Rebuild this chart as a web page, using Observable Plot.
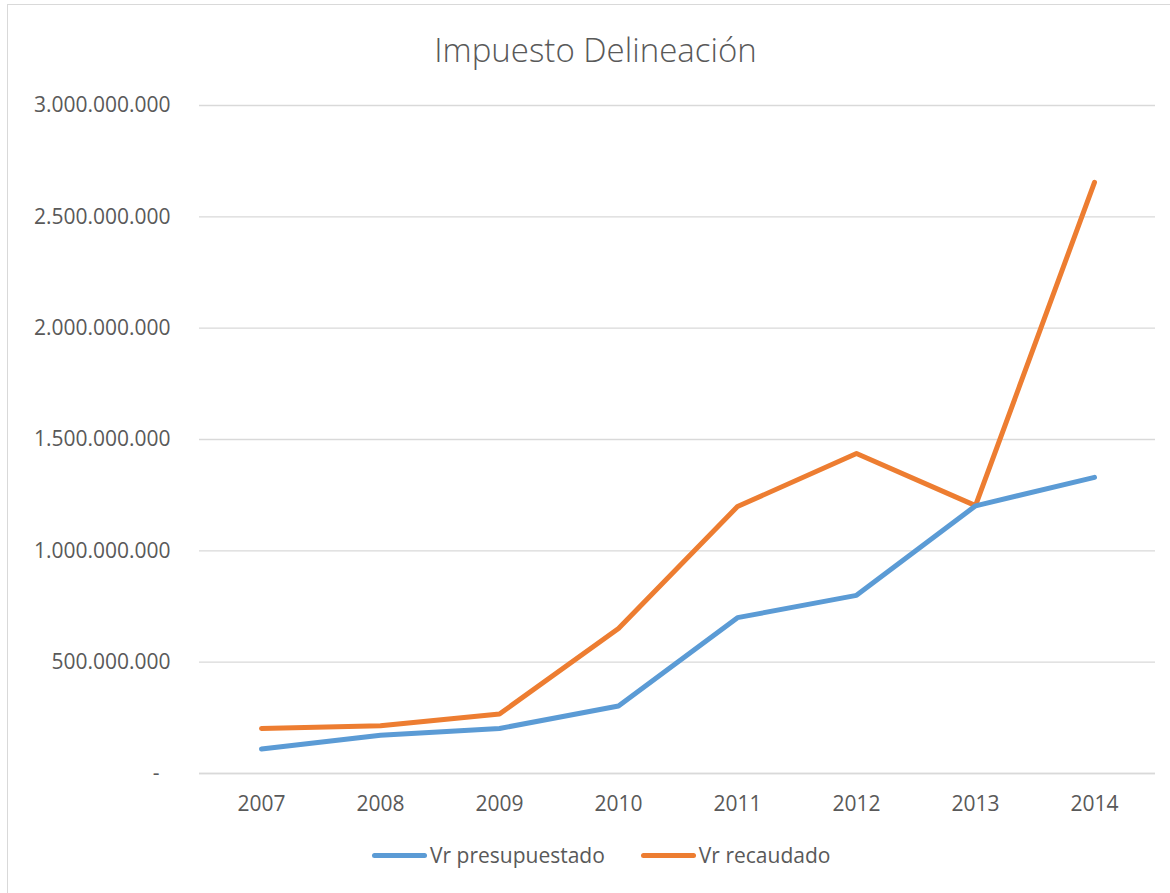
<!DOCTYPE html>
<html><head><meta charset="utf-8">
<script src="https://cdn.jsdelivr.net/npm/d3@7"></script>
<script src="https://cdn.jsdelivr.net/npm/@observablehq/plot@0.6"></script>
<style>
html,body{margin:0;padding:0;background:#fff;overflow:hidden}
#wrap{position:relative;width:1170px;height:893px;overflow:hidden;font-family:"Open Sans",sans-serif;background:#fff}
#frame{position:absolute;left:7px;top:4px;width:1300px;height:1000px;border:1.5px solid #d9d9d9;box-sizing:border-box}
#title{position:absolute;left:0;width:1191px;top:33px;text-align:center;font-size:33px;line-height:33px;font-weight:300;color:#595959;white-space:nowrap}
#chart{position:absolute;left:0;top:0}
#legend{position:absolute;left:372px;top:845px;display:flex;align-items:center;font-size:21px;line-height:21px;color:#595959;white-space:nowrap}
.sw{display:inline-block;width:55px;height:5px;border-radius:3px;margin-right:3px}
.item{display:flex;align-items:center}
</style>
</head><body>
<div id="wrap">
  <div id="frame"></div>
  <div id="chart"></div>
  <div id="title">Impuesto Delineación</div>
  <div id="legend"></div>
</div>
<script>
const years = ["2007","2008","2009","2010","2011","2012","2013","2014"];
const seriesNames = ["Vr presupuestado","Vr recaudado"];
const seriesColors = ["#5B9BD5","#ED7D31"];
const presupuestado = [110e6,172e6,202e6,303e6,700e6,800e6,1202e6,1330e6];
const recaudado = [202e6,214e6,267e6,651e6,1199e6,1437e6,1203e6,2655e6];
const yTicks = [0,5e8,1e9,1.5e9,2e9,2.5e9,3e9];

const rows = [];
// orange first so blue sits on top at the 2013 meeting point
years.forEach((y,i)=>rows.push({year:y, value:recaudado[i], series:seriesNames[1]}));
years.forEach((y,i)=>rows.push({year:y, value:presupuestado[i], series:seriesNames[0]}));

const fmt = d3.formatLocale({decimal:",", thousands:".", grouping:[3], currency:["",""]}).format(",.0f");
const yFormat = d => d === 0 ? "-\u00A0\u00A0" : fmt(d);

const chart = Plot.plot({
  width:1170, height:893,
  marginLeft:199, marginRight:15, marginTop:105, marginBottom:120,
  style:{fontFamily:"Open Sans, sans-serif", fontSize:"21px", color:"#595959", background:"transparent"},
  x:{type:"point", domain:years, padding:0.5, label:null},
  y:{domain:[0,3e9], label:null},
  color:{domain:seriesNames, range:seriesColors},
  marks:[
    Plot.gridY(yTicks, {stroke:"#d9d9d9", strokeOpacity:1, strokeWidth:1.3}),
    Plot.ruleY([0], {stroke:"#d9d9d9", strokeWidth:1.6}),
    Plot.axisY(yTicks, {tickSize:0, tickPadding:29, tickFormat:yFormat, fill:"#595959", label:null}),
    Plot.axisX({tickSize:0, tickPadding:23, fill:"#595959", label:null}),
    Plot.line(rows, {x:"year", y:"value", z:"series", stroke:"series", strokeWidth:5, strokeLinecap:"round", strokeLinejoin:"round"})
  ]
});
document.getElementById("chart").appendChild(chart);

const legend = document.getElementById("legend");
seriesNames.forEach((n,i)=>{
  const it = document.createElement("div");
  it.className = "item";
  if (i>0) it.style.marginLeft = "36px";
  const sw = document.createElement("span");
  sw.className = "sw"; sw.style.background = seriesColors[i];
  const t = document.createElement("span");
  t.textContent = n;
  it.appendChild(sw); it.appendChild(t);
  legend.appendChild(it);
});
</script>
</body></html>
